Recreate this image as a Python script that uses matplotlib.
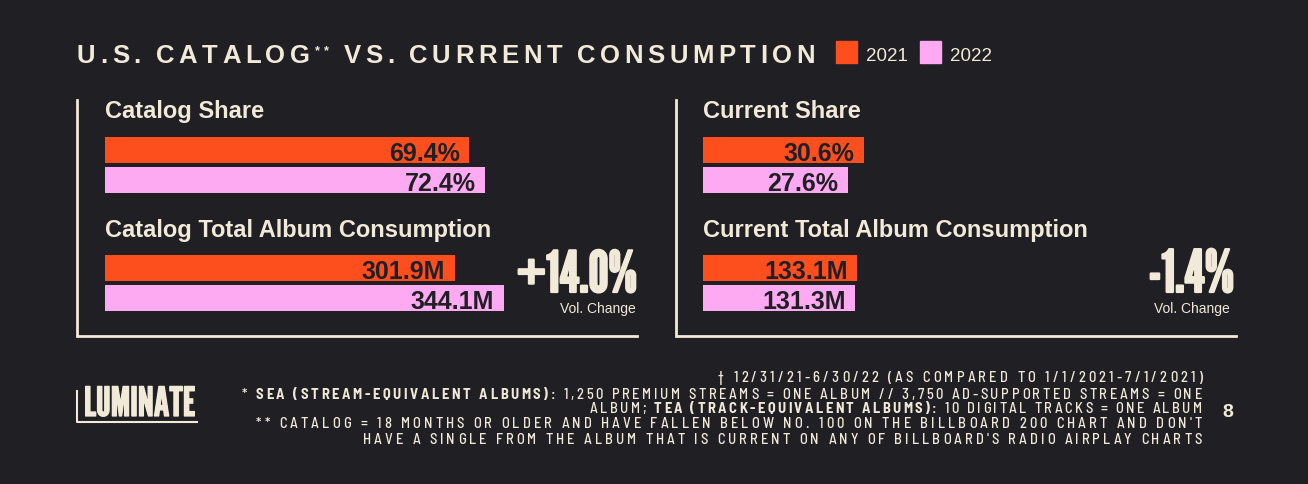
import numpy as np
import matplotlib
matplotlib.use("Agg")
import matplotlib.pyplot as plt
import matplotlib.patheffects as pe
from matplotlib.patches import Rectangle

# data
years = ["2021", "2022"]
catalog_share = [69.4, 72.4]
current_share = [30.6, 27.6]
catalog_albums = [301.9, 344.1]
current_albums = [133.1, 131.3]

BG = "#1f1f24"
CREAM = "#f2ead8"
ORANGE = "#fd4f1e"
PINK = "#fdaaf2"
colors = [ORANGE, PINK]

W, H = 1308, 485
fig = plt.figure(figsize=(W / 100, H / 100), dpi=100, facecolor=BG)
renderer = fig.canvas.get_renderer()

# overlay axes in pixel coordinates for text and decorations
ov = fig.add_axes([0, 0, 1, 1])
ov.set_xlim(0, W)
ov.set_ylim(H, 0)
ov.axis("off")
ov.patch.set_visible(False)

SANS = ["Liberation Sans", "DejaVu Sans"]
SEMI = ["Barlow Semi Condensed", "Liberation Sans", "DejaVu Sans"]
HEAVY = ["League Gothic", "Anton", "Oswald", "Barlow Condensed", "Liberation Sans"]


def fit_width(x, y, s, width, ha="right", family=HEAVY, weight="bold", stroke=1.6):
    # set the font size so the text takes the given pixel width
    t = ov.text(x, y, s, fontsize=40, family=family, fontweight=weight, color=CREAM,
                ha=ha, va="baseline",
                path_effects=[pe.withStroke(linewidth=stroke, foreground=CREAM)])
    w = t.get_window_extent(renderer).width
    t.set_fontsize(40 * (width - stroke) / w)
    return t


def tracked(segs, x, y, width, align="left", fontsize=10, family=SANS):
    # letter-spaced text, spread so it fills the given width
    chars = []
    for s, weight, size, dy in segs:
        size = size or fontsize
        for ch in s:
            if ch == " ":
                w = size * 100 / 72 * 0.22
            else:
                t = ov.text(0, 0, ch, fontsize=size, fontweight=weight, family=family)
                w = t.get_window_extent(renderer).width
                t.remove()
            chars.append((ch, weight, size, dy, w))
    gap = (width - sum(c[4] for c in chars)) / (len(chars) - 1)
    xx = x - width if align == "right" else x
    for ch, weight, size, dy, w in chars:
        if ch != " ":
            ov.text(xx, y + dy, ch, fontsize=size, fontweight=weight, family=family,
                    color=CREAM, ha="left", va="baseline")
        xx += w + gap


# title + legend
tracked([("U.S. CATALOG", "bold", 18.5, 0), ("**", "bold", 9, -9),
         (" VS. CURRENT CONSUMPTION", "bold", 18.5, 0)], 77, 63, 738)
for i, (yr, c) in enumerate(zip(years, colors)):
    x = 836 + i * 84
    ov.add_patch(Rectangle((x, 42), 21, 22, color=c))
    ov.text(x + 30, 61, yr, fontsize=13.5, family=SANS, color=CREAM, va="baseline")

# panel frames
for x0, x1 in [(77, 637), (676, 1236)]:
    ov.plot([x0, x0, x1], [101, 337, 337], color=CREAM, lw=2, solid_joinstyle="miter")


def bar_pair(left, top, xmax, vals, fmt):
    ax = fig.add_axes([left / W, 1 - (top + 60) / H, 525 / W, 60 / H])
    ax.barh([0.5, 1.5], vals, height=0.867, color=colors)
    ax.set_xlim(0, xmax)
    ax.set_ylim(2, 0)
    ax.axis("off")
    ax.patch.set_visible(False)
    for y, v in zip([0.5, 1.5], vals):
        ax.annotate(fmt(v), (v, y), xytext=(-7, -0.5), textcoords="offset points",
                    ha="right", va="center_baseline", fontsize=18, fontweight="bold",
                    family=SANS, color=BG)


pct = lambda v: f"{v:.1f}%"
mil = lambda v: f"{v:.1f}M"

panels = [
    (105, "Catalog", catalog_share, catalog_albums, (515, 637), 636),
    (703, "Current", current_share, current_albums, (1147, 1234), 1230),
]
for left, name, share, albums, (bx0, bx1), vr in panels:
    ov.text(left, 118, f"{name} Share", fontsize=17, fontweight="bold", family=SANS,
            color=CREAM, va="baseline")
    ov.text(left, 237, f"{name} Total Album Consumption", fontsize=17, fontweight="bold",
            family=SANS, color=CREAM, va="baseline")
    bar_pair(left, 136, 100, share, pct)
    bar_pair(left, 254, 453, albums, mil)
    change = (albums[1] / albums[0] - 1) * 100
    fit_width(bx1, 293, f"{change:+.1f}%", bx1 - bx0)
    ov.text(vr, 313, "Vol. Change", fontsize=10, family=SANS, color=CREAM,
            ha="right", va="baseline")

# footer
foot = [
    ([("† 12/31/21-6/30/22 (AS COMPARED TO 1/1/2021-7/1/2021)", "medium", None, 0)], 382, 484),
    ([("* ", "medium", None, 0), ("SEA (STREAM-EQUIVALENT ALBUMS):", "bold", None, 0),
      (" 1,250 PREMIUM STREAMS = ONE ALBUM // 3,750 AD-SUPPORTED STREAMS = ONE", "medium", None, 0)], 399, 960),
    ([("ALBUM; ", "medium", None, 0), ("TEA (TRACK-EQUIVALENT ALBUMS):", "bold", None, 0),
      (" 10 DIGITAL TRACKS = ONE ALBUM", "medium", None, 0)], 413, 612),
    ([("** CATALOG = 18 MONTHS OR OLDER AND HAVE FALLEN BELOW NO. 100 ON THE BILLBOARD 200 CHART AND DON'T",
       "medium", None, 0)], 428, 946),
    ([("HAVE A SINGLE FROM THE ALBUM THAT IS CURRENT ON ANY OF BILLBOARD'S RADIO AIRPLAY CHARTS",
       "medium", None, 0)], 444, 839),
]
for segs, y, w in foot:
    tracked(segs, 1202, y, w, align="right", fontsize=10.5, family=SEMI)

ov.text(1228, 417, "8", fontsize=14, fontweight="bold", family=SANS, color=CREAM,
        ha="center", va="baseline")

# logo
fit_width(84, 417, "LUMINATE", 113, ha="left", stroke=0.9)
ov.plot([77, 77, 197], [392, 423, 423], color=CREAM, lw=1.5)

fig.savefig("out.png", dpi=100, facecolor=BG)
